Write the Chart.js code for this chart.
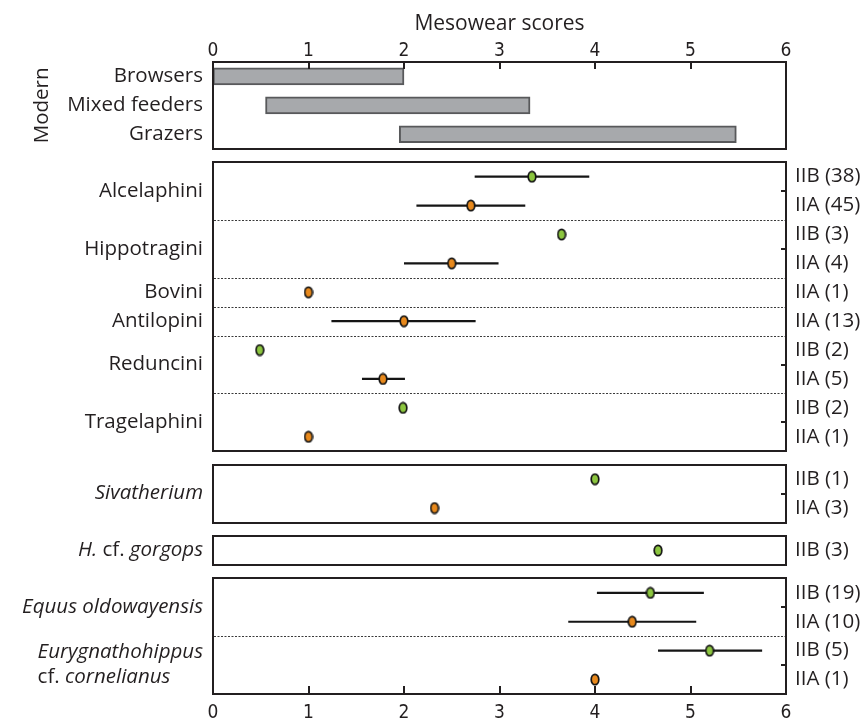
<!DOCTYPE html>
<html>
<head>
<meta charset="utf-8">
<script src="https://cdn.jsdelivr.net/npm/chart.js@4/dist/chart.umd.min.js"></script>
<style>
  html, body { margin: 0; padding: 0; background: #ffffff; }
  #wrap { width: 865px; height: 719px; }
</style>
</head>
<body>
<div id="wrap"><canvas id="chart" width="865" height="719"></canvas></div>
<script>
// Modern reference ranges of mesowear scores
const modernGroups = ['Browsers', 'Mixed feeders', 'Grazers'];
const modernLow = [0, 0.55, 1.95];
const modernHigh = [2, 3.32, 5.48];

// Fossil taxa (asterisks mark italic runs, \n starts a new line) and the panel each one sits in
const taxa = ['Alcelaphini', 'Hippotragini', 'Bovini', 'Antilopini', 'Reduncini', 'Tragelaphini',
  '*Sivatherium*', '*H.* cf. *gorgops*', '*Equus oldowayensis*', '*Eurygnathohippus*\ncf. *cornelianus*'];
const taxonPanel = [1, 1, 1, 1, 1, 1, 2, 3, 4, 4];

// One entry per fossil sample: taxon, bed, sample size, mean score and its range
const sampleTaxon = [0, 0, 1, 1, 2, 3, 4, 4, 5, 5, 6, 6, 7, 8, 8, 9, 9];
const sampleBed = ['IIB', 'IIA', 'IIB', 'IIA', 'IIA', 'IIA', 'IIB', 'IIA', 'IIB', 'IIA', 'IIB', 'IIA', 'IIB', 'IIB', 'IIA', 'IIB', 'IIA'];
const sampleN = [38, 45, 3, 4, 1, 13, 2, 5, 2, 1, 1, 3, 3, 19, 10, 5, 1];
const sampleMean = [3.34, 2.70, 3.65, 2.50, 1.00, 2.00, 0.49, 1.78, 1.99, 1.00, 4.00, 2.32, 4.66, 4.58, 4.39, 5.20, 4.00];
const sampleLow = [2.74, 2.13, null, 2.00, null, 1.24, null, 1.56, null, null, null, null, null, 4.02, 3.72, 4.66, null];
const sampleHigh = [3.94, 3.27, null, 2.99, null, 2.75, null, 2.01, null, null, null, null, null, 5.14, 5.06, 5.75, null];

const bedColors = { IIB: '#8cc63f', IIA: '#e8891c' };
const scoreMin = 0, scoreMax = 6;

const INK = '#231f20';
const SANS = "'Open Sans', 'Noto Sans', sans-serif";
const NARROW = "'Liberation Sans Narrow', 'DejaVu Sans Condensed', sans-serif";
const LABEL_SIZE = 20.5;
const PANEL_GAP = 0.467; // blank space between panels, in rows

// Lay the rows out panel by panel on a single reversed row axis
const panelRows = Array.from({ length: 5 }, () => []);
modernGroups.forEach((g, i) => panelRows[0].push({ modern: i }));
sampleTaxon.forEach((t, i) => panelRows[taxonPanel[t]].push({ sample: i }));
const modernPos = [], samplePos = [], panelTop = [], panelBottom = [];
let cursor = 0;
panelRows.forEach((rows, p) => {
  if (p) cursor += PANEL_GAP;
  panelTop.push(cursor);
  rows.forEach(r => {
    const c = cursor + 0.5;
    if ('modern' in r) modernPos[r.modern] = c; else samplePos[r.sample] = c;
    cursor += 1;
  });
  panelBottom.push(cursor);
});
const rowMax = cursor;

// Small outlined ellipse used as the marker of each bed
function ellipseMarker(fill) {
  const c = document.createElement('canvas');
  c.width = 10; c.height = 13;
  const g = c.getContext('2d');
  g.beginPath();
  g.ellipse(5, 6.5, 3.8, 5.2, 0, 0, Math.PI * 2);
  g.fillStyle = fill; g.fill();
  g.lineWidth = 1.7; g.strokeStyle = '#151515'; g.stroke();
  return c;
}

const datasets = [];
datasets.push({
  type: 'bar', indexAxis: 'y', xAxisID: 'x', yAxisID: 'y', order: 3,
  data: modernGroups.map((g, i) => ({ x: [modernLow[i], modernHigh[i]], y: modernPos[i] })),
  backgroundColor: '#a7a9ac', borderColor: '#58595b', borderWidth: 2,
  borderSkipped: false, barThickness: 17
});
['IIB', 'IIA'].forEach(bed => {
  datasets.push({
    type: 'scatter', xAxisID: 'x', yAxisID: 'y', order: 0,
    data: sampleBed.map((b, i) => b === bed ? { x: sampleMean[i], y: samplePos[i] } : null).filter(Boolean),
    pointStyle: ellipseMarker(bedColors[bed])
  });
});
sampleLow.forEach((lo, i) => {
  if (lo == null) return;
  datasets.push({
    type: 'line', xAxisID: 'x', yAxisID: 'y', order: 1,
    data: [{ x: lo, y: samplePos[i] }, { x: sampleHigh[i], y: samplePos[i] }],
    borderColor: '#151515', borderWidth: 2.2, pointRadius: 0, fill: false
  });
});

// Text with *italic* runs; multi-line blocks are left aligned and end at xRight
function richFont(italic) { return (italic ? 'italic ' : '') + LABEL_SIZE + 'px ' + SANS; }
function drawRich(ctx, text, xRight, yCenter, lineGap) {
  const lines = text.split('\n');
  const parts = lines.map(l => l.split('*').map((s, k) => ({ s, it: k % 2 === 1 })).filter(p => p.s));
  const widths = parts.map(ps => ps.reduce((w, p) => { ctx.font = richFont(p.it); return w + ctx.measureText(p.s).width; }, 0));
  const maxW = Math.max(...widths);
  ctx.textAlign = 'left';
  ctx.textBaseline = 'middle';
  lines.forEach((l, li) => {
    let x = lines.length > 1 ? xRight - maxW : xRight - widths[li];
    const yy = yCenter + (li - (lines.length - 1) / 2) * lineGap;
    parts[li].forEach(p => {
      ctx.font = richFont(p.it);
      ctx.fillText(p.s, x, yy);
      x += ctx.measureText(p.s).width;
    });
  });
}

const panelPlugin = {
  id: 'panels',
  beforeDatasetsDraw(chart) {
    const { ctx, chartArea: { left, right }, scales: { y } } = chart;
    ctx.save();
    ctx.strokeStyle = '#3a3a3a';
    ctx.lineWidth = 1;
    ctx.setLineDash([2, 1.5]);
    for (let i = 0; i < sampleTaxon.length - 1; i++) {
      const a = sampleTaxon[i], b = sampleTaxon[i + 1];
      if (a !== b && taxonPanel[a] === taxonPanel[b]) {
        const py = Math.round(y.getPixelForValue((samplePos[i] + samplePos[i + 1]) / 2)) + 0.5;
        ctx.beginPath(); ctx.moveTo(left + 1, py); ctx.lineTo(right - 1, py); ctx.stroke();
      }
    }
    ctx.restore();
  },
  afterDatasetsDraw(chart) {
    const { ctx, chartArea: { left, right }, scales: { x, y } } = chart;
    const top = Math.round(y.getPixelForValue(panelTop[0]));
    const bottom = Math.round(y.getPixelForValue(panelBottom[panelBottom.length - 1]));
    ctx.save();
    ctx.strokeStyle = INK;
    ctx.lineWidth = 2;
    panelTop.forEach((t, p) => {
      const y0 = Math.round(y.getPixelForValue(t)), y1 = Math.round(y.getPixelForValue(panelBottom[p]));
      ctx.strokeRect(left, y0, right - left, y1 - y0);
    });
    // score ticks pointing into the first and last panels
    x.ticks.forEach(t => {
      const px = Math.round(x.getPixelForValue(t.value));
      ctx.beginPath(); ctx.moveTo(px, top); ctx.lineTo(px, top + 7); ctx.stroke();
      ctx.beginPath(); ctx.moveTo(px, bottom); ctx.lineTo(px, bottom - 8); ctx.stroke();
    });
    // right-hand marks between the two beds of a taxon
    taxa.forEach((t, ti) => {
      const idx = sampleTaxon.map((s, i) => s === ti ? i : -1).filter(i => i >= 0);
      if (idx.length < 2) return;
      const py = Math.round(y.getPixelForValue((samplePos[idx[0]] + samplePos[idx[idx.length - 1]]) / 2));
      ctx.beginPath(); ctx.moveTo(right - 5, py); ctx.lineTo(right, py); ctx.stroke();
    });
    ctx.restore();
  },
  afterDraw(chart) {
    const { ctx, scales: { y } } = chart;
    const xRight = chart.chartArea.left - 10;
    ctx.save();
    ctx.fillStyle = INK;
    modernGroups.forEach((g, i) => drawRich(ctx, g, xRight, y.getPixelForValue(modernPos[i]), 25));
    taxa.forEach((t, ti) => {
      const pos = sampleTaxon.map((s, i) => s === ti ? samplePos[i] : null).filter(v => v != null);
      const mid = (pos[0] + pos[pos.length - 1]) / 2;
      drawRich(ctx, t, xRight, y.getPixelForValue(mid), 25);
    });
    // rotated heading of the modern panel
    const my = (y.getPixelForValue(panelTop[0]) + y.getPixelForValue(panelBottom[0])) / 2;
    ctx.translate(42, my);
    ctx.rotate(-Math.PI / 2);
    ctx.font = LABEL_SIZE + 'px ' + SANS;
    ctx.textAlign = 'center';
    ctx.textBaseline = 'middle';
    ctx.fillText('Modern', 0, 0);
    ctx.restore();
  }
};

const scoreTicks = { stepSize: 1, font: { family: NARROW, size: 19 }, color: INK };

new Chart(document.getElementById('chart'), {
  type: 'scatter',
  data: { datasets },
  options: {
    responsive: false,
    animation: false,
    events: [],
    layout: { padding: 0 },
    plugins: { legend: { display: false }, tooltip: { enabled: false } },
    scales: {
      x: {
        type: 'linear', position: 'bottom', min: scoreMin, max: scoreMax, offset: false,
        ticks: Object.assign({ padding: 8 }, scoreTicks),
        grid: { display: false, drawTicks: false, offset: false }, border: { display: false },
        afterFit(s) { s.height = 25; }
      },
      x2: {
        type: 'linear', position: 'top', min: scoreMin, max: scoreMax, offset: false,
        ticks: Object.assign({ padding: 0 }, scoreTicks),
        grid: { display: false, drawTicks: false, offset: false }, border: { display: false },
        title: { display: true, text: 'Mesowear scores', color: INK,
          font: { family: SANS, size: 21 }, padding: { top: 11, bottom: 0 } },
        afterFit(s) { s.height = 62; }
      },
      y: {
        type: 'linear', position: 'left', min: 0, max: rowMax, reverse: true, offset: false,
        ticks: { display: false }, grid: { display: false, drawTicks: false, offset: false }, border: { display: false },
        afterFit(s) { s.width = 213; }
      },
      yR: {
        type: 'linear', position: 'right', min: 0, max: rowMax, reverse: true, offset: false,
        afterBuildTicks(s) { s.ticks = samplePos.map(v => ({ value: v })); },
        ticks: {
          autoSkip: false, padding: 9, color: INK, font: { family: SANS, size: LABEL_SIZE },
          callback: (v, i) => `${sampleBed[i]} (${sampleN[i]})`
        },
        grid: { display: false, drawTicks: false }, border: { display: false },
        afterFit(s) { s.width = 79; }
      }
    }
  },
  plugins: [panelPlugin]
});
</script>
</body>
</html>
